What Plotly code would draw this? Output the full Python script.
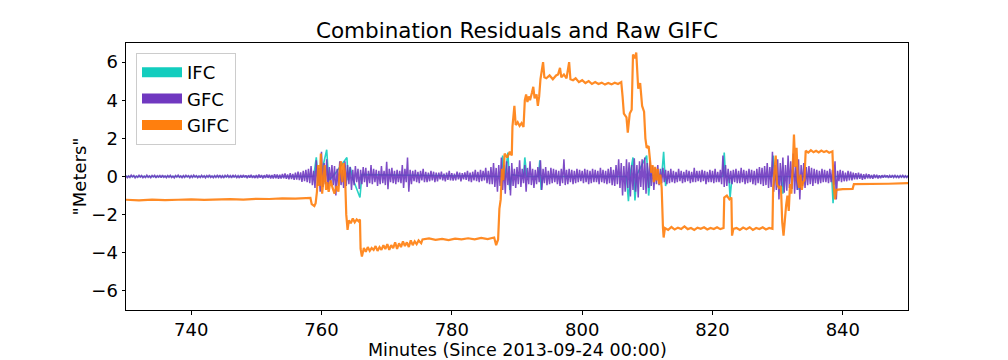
import numpy as np
import plotly.graph_objects as go

# ---------------- data ----------------
T_START, T_END = 730.0, 850.0          # GFC sampled every 0.2 min

GFC = [
    0.04, -0.06, 0.03, -0.05, 0.07, -0.02, 0.05, -0.07, 0.02, -0.04,   # 730
    0.06, -0.03, 0.05, -0.06, 0.02, -0.05, 0.07, -0.04, 0.03, -0.06,   # 732
    0.05, -0.02, 0.06, -0.07, 0.04, -0.03, 0.05, -0.06, 0.07, -0.04,   # 734
    0.03, -0.06, 0.05, -0.04, 0.06, -0.05, 0.02, -0.07, 0.05, -0.03,   # 736
    0.07, -0.04, 0.03, -0.06, 0.05, -0.05, 0.06, -0.02, 0.04, -0.07,   # 738
    0.05, -0.05, 0.07, -0.03, 0.04, -0.06, 0.03, -0.05, 0.06, -0.04,   # 740
    0.04, -0.07, 0.05, -0.04, 0.08, -0.05, 0.03, -0.06, 0.05, -0.05,   # 742
    0.06, -0.04, 0.07, -0.06, 0.04, -0.08, 0.06, -0.03, 0.07, -0.05,   # 744
    0.05, -0.07, 0.08, -0.05, 0.06, -0.06, 0.04, -0.08, 0.07, -0.06,   # 746
    0.08, -0.05, 0.06, -0.09, 0.07, -0.06, 0.09, -0.07, 0.05, -0.08,   # 748
    0.07, -0.09, 0.10, -0.06, 0.08, -0.10, 0.07, -0.08, 0.11, -0.07,   # 750
    0.09, -0.11, 0.08, -0.10, 0.12, -0.09, 0.10, -0.12, 0.09, -0.11,   # 752
    0.13, -0.10, 0.16, -0.12, 0.11, -0.15, 0.18, -0.13, 0.14, -0.17,   # 754
    0.20, -0.16, 0.25, -0.19, 0.22, -0.28, 0.30, -0.24, 0.35, -0.30,   # 756
    0.40, -0.35, 0.55, -0.45, 0.30, -0.60, 0.85, -0.50, 0.45, -0.80,   # 758
    1.30, -0.55, 0.70, -0.40, 0.90, -0.65, 0.50, -0.35, 0.60, -0.45,   # 760
    0.55, -1.00, 0.40, -0.50, 0.80, -0.45, 0.35, -0.60, 0.80, -0.50,   # 762
    0.60, -0.40, 0.50, -0.70, 0.35, -0.45, 0.55, -0.30, 0.40, -0.65,   # 764
    0.35, -0.40, 0.50, -0.30, 0.45, -0.55, 0.30, -0.35, 0.60, -0.40,   # 766
    0.40, -0.30, 0.35, -0.50, 0.30, -0.40, 0.55, -0.35, 0.30, -0.45,   # 768
    0.77, -0.67, 0.40, -0.30, 0.45, -0.35, 0.30, -0.40, 0.35, -0.30,   # 770
    0.30, -0.35, 0.60, -0.60, 0.40, -0.30, 1.00, -0.80, 0.35, -0.40,   # 772
    0.30, -0.25, 0.35, -0.30, 0.25, -0.35, 0.30, -0.20, 0.40, -0.30,   # 774
    0.25, -0.30, 0.20, -0.25, 0.30, -0.20, 0.25, -0.30, 0.20, -0.25,   # 776
    0.20, -0.15, 0.25, -0.20, 0.15, -0.25, 0.20, -0.18, 0.30, -0.20,   # 778
    0.18, -0.22, 0.15, -0.20, 0.25, -0.15, 0.20, -0.25, 0.18, -0.15,   # 780
    0.22, -0.18, 0.30, -0.25, 0.20, -0.30, 0.25, -0.20, 0.35, -0.25,   # 782
    0.25, -0.30, 0.35, -0.25, 0.30, -0.20, 0.45, -0.35, 0.30, -0.40,   # 784
    0.50, -0.40, 0.70, -0.55, 0.45, -0.80, 0.60, -0.50, 1.00, -0.70,   # 786
    0.60, -0.90, 0.80, -0.45, 0.55, -1.00, 0.70, -0.50, 0.40, -0.60,   # 788
    0.50, -0.40, 0.85, -0.55, 0.40, -0.35, 0.60, -0.80, 0.45, -0.40,   # 790
    0.80, -0.45, 0.40, -0.60, 0.35, -0.40, 0.50, -0.30, 0.85, -0.70,   # 792
    0.40, -0.35, 0.50, -0.45, 0.30, -0.40, 0.45, -0.35, 0.40, -0.30,   # 794
    0.35, -0.40, 0.30, -0.50, 0.40, -0.35, 0.90, -0.45, 0.35, -0.40,   # 796
    0.40, -0.30, 0.35, -0.40, 0.30, -0.35, 0.40, -0.30, 0.35, -0.25,   # 798
    0.30, -0.35, 0.40, -0.30, 0.35, -0.40, 0.30, -0.35, 0.40, -0.30,   # 800
    0.35, -0.30, 0.30, -0.40, 0.45, -0.30, 0.35, -0.35, 0.30, -0.40,   # 802
    0.40, -0.35, 0.50, -0.45, 0.35, -0.50, 0.60, -0.40, 0.90, -0.60,   # 804
    0.70, -1.00, 0.55, -0.80, 0.90, -0.60, 0.75, -1.05, 0.60, -0.70,   # 806
    0.95, -0.80, 0.60, -1.10, 0.80, -0.55, 0.90, -0.70, 1.00, -0.90,   # 808
    0.70, -0.60, 0.85, -0.50, 0.55, -0.70, 0.45, -0.40, 0.60, -0.45,   # 810
    0.40, -0.35, 0.45, -0.30, 0.35, -0.40, 0.30, -0.35, 0.40, -0.30,   # 812
    0.30, -0.35, 0.25, -0.30, 0.40, -0.25, 0.30, -0.35, 0.25, -0.30,   # 814
    0.35, -0.25, 0.30, -0.35, 0.25, -0.30, 0.45, -0.30, 0.30, -0.25,   # 816
    0.30, -0.30, 0.35, -0.25, 0.30, -0.40, 0.25, -0.30, 0.35, -0.30,   # 818
    0.30, -0.35, 0.40, -0.30, 0.25, -0.30, 0.35, -0.40, 1.10, -0.55,   # 820
    0.60, -0.50, 0.40, -0.35, 0.30, -0.40, 0.35, -0.30, 0.40, -0.35,   # 822
    0.30, -0.35, 0.45, -0.30, 0.35, -0.40, 0.30, -0.35, 0.40, -0.30,   # 824
    0.35, -0.40, 0.30, -0.45, 0.40, -0.35, 0.50, -0.40, 0.45, -0.50,   # 826
    0.55, -0.45, 0.70, -0.60, 0.50, -0.55, 1.30, -0.80, 0.60, -0.70,   # 828
    0.90, -1.20, 0.70, -0.55, 1.00, -0.85, 0.60, -0.75, 1.10, -0.60,   # 830
    0.80, -0.65, 1.20, -0.90, 0.55, -0.70, 0.90, -1.20, 0.60, -0.50,   # 832
    0.70, -0.60, 0.50, -0.45, 0.55, -0.40, 0.45, -0.50, 0.40, -0.35,   # 834
    0.35, -0.40, 0.30, -0.35, 0.40, -0.30, 0.35, -0.30, 0.30, -0.35,   # 836
    0.40, -0.30, 0.35, -0.45, 0.80, -1.20, 0.30, -0.25, 0.35, -0.30,   # 838
    0.30, -0.25, 0.20, -0.25, 0.30, -0.20, 0.25, -0.20, 0.20, -0.15,   # 840
    0.18, -0.15, 0.20, -0.12, 0.15, -0.18, 0.12, -0.14, 0.15, -0.10,   # 842
    0.12, -0.10, 0.08, -0.12, 0.10, -0.08, 0.09, -0.10, 0.07, -0.09,   # 844
    0.07, -0.06, 0.08, -0.05, 0.06, -0.07, 0.05, -0.06, 0.07, -0.05,   # 846
    0.06, -0.05, 0.04, -0.06, 0.05, -0.04, 0.06, -0.05, 0.04, -0.05,   # 848
    0.05,                                                              # 850
]

# IFC: only its excursions beyond GFC are visible -> sampled at those points
IFC_POINTS = [
    (730, 0), (758.8, 0), (759.2, 1.0), (759.5, -0.3), (760.0, 0.2),
    (760.8, 1.4), (761.1, -0.2), (762.0, 0.1), (763.9, 1.0), (764.1, -0.2),
    (764.4, 0.5), (764.8, -0.1), (765.9, -1.1), (766.2, 0.1), (787.6, 0),
    (787.8, 1.1), (788.1, -0.2), (788.6, 1.25), (788.9, -0.7), (789.2, 0.1),
    (791.0, 0), (791.2, 1.0), (791.5, 0), (793.3, 0), (793.5, 0.85),
    (793.7, -0.7), (794.0, 0), (806.8, 0), (807.1, -1.3), (807.4, 0.2),
    (807.8, 1.0), (808.1, -1.25), (808.4, 0.1), (809.9, 1.1), (810.2, -1.0),
    (810.5, 0.1), (812.2, 0), (812.5, 1.3), (812.8, -0.5), (813.1, 0),
    (821.6, 0), (821.8, 1.25), (822.0, 0), (822.5, 0), (822.7, -1.1),
    (823.0, 0), (829.1, 0), (829.3, 1.1), (829.6, 0), (830.6, 0),
    (830.8, -0.9), (831.0, 0), (832.9, 0), (833.1, -0.7), (833.3, 0),
    (838.3, 0), (838.5, -1.4), (838.7, 0), (850, 0),
]

GIFC_POINTS = [
    (730.0, -1.22), (732, -1.25), (734, -1.21), (736, -1.24), (738, -1.22),
    (740, -1.20), (742, -1.23), (744, -1.20), (746, -1.19), (748, -1.21),
    (750, -1.17), (752, -1.18), (754, -1.15), (756, -1.16), (758.3, -1.12),
    (758.5, -1.45), (758.9, -1.55), (759.1, -1.40), (759.3, -0.80), (759.5, 0.60),
    (759.7, -0.50), (759.9, 1.20), (760.1, -0.90), (760.3, -0.20), (760.5, 0.60),
    (760.7, -0.70), (760.9, -0.30), (761.1, -0.80), (761.4, -0.20), (761.7, -0.60),
    (762.0, -0.90), (762.3, -0.50), (762.6, -0.80), (762.8, 0.40), (763.0, 0.80),
    (763.2, -0.30), (763.4, 0.70), (763.6, 0.20), (763.8, -2.00), (764.0, -2.80),
    (764.2, -2.30), (764.5, -2.45), (764.8, -2.20), (765.1, -2.40), (765.4, -2.25),
    (765.7, -2.35), (765.9, -2.25), (766.0, -3.80), (766.2, -4.20), (766.5, -3.75),
    (766.8, -3.95), (767.1, -3.70), (767.4, -3.90), (767.7, -3.75), (768.0, -3.85),
    (768.3, -3.65), (768.6, -3.90), (768.9, -3.70), (769.2, -3.85), (769.5, -3.60),
    (769.8, -3.80), (770.1, -3.55), (770.4, -3.85), (770.7, -3.60), (771.0, -3.75),
    (771.3, -3.45), (771.6, -3.80), (771.9, -3.50), (772.2, -3.70), (772.5, -3.40),
    (772.8, -3.65), (773.1, -3.45), (773.4, -3.70), (773.7, -3.35), (774.0, -3.60),
    (774.3, -3.40), (774.6, -3.55), (774.9, -3.35), (775.3, -3.50), (775.5, -3.30),
    (776.5, -3.25), (777.5, -3.32), (778.5, -3.27), (779.5, -3.33), (780.5, -3.26),
    (781.5, -3.30), (782.5, -3.24), (783.5, -3.30), (784.5, -3.22), (785.5, -3.28),
    (786.5, -3.20), (786.8, -3.60), (787.1, -3.30), (787.3, -1.70), (787.5, -1.20),
    (787.7, 0.40), (787.9, -0.20), (788.1, 1.20), (788.5, 1.00), (788.9, 1.30),
    (789.2, 1.10), (789.3, 2.60), (789.6, 3.70), (789.8, 2.70), (790.1, 2.85),
    (790.4, 2.65), (790.7, 2.80), (791.0, 2.60), (791.2, 4.00), (791.4, 4.30),
    (791.6, 3.90), (791.8, 4.20), (792.0, 4.00), (792.3, 4.40), (792.5, 4.70),
    (792.7, 4.10), (793.0, 4.30), (793.2, 3.70), (793.4, 4.20), (793.6, 5.10),
    (794.0, 6.00), (794.2, 5.20), (794.5, 5.15), (795.0, 5.30), (795.5, 5.10),
    (796.0, 5.30), (796.3, 5.35), (796.6, 5.70), (796.8, 5.20), (797.2, 5.35),
    (797.6, 5.15), (798.0, 6.00), (798.2, 5.10), (798.6, 5.05), (799.0, 5.15),
    (799.5, 4.95), (800.0, 5.05), (800.5, 4.90), (801.0, 5.00), (801.5, 4.85),
    (802.0, 4.95), (802.5, 4.85), (803.0, 4.92), (803.5, 4.82), (804.0, 4.90),
    (804.5, 4.83), (805.0, 4.92), (805.5, 4.85), (806.0, 4.95), (806.2, 4.20),
    (806.4, 3.30), (806.8, 3.10), (807.0, 2.30), (807.3, 3.30), (807.6, 3.50),
    (807.8, 6.40), (808.1, 6.20), (808.3, 6.50), (808.6, 4.60), (808.9, 4.90),
    (809.2, 3.70), (809.5, 3.40), (809.7, 2.00), (809.9, 1.50), (810.2, 1.60),
    (810.4, 0.90), (810.6, 0.20), (810.8, 0.60), (811.0, -0.30), (811.2, 0.50),
    (811.4, -0.20), (811.6, 0.40), (811.8, -0.40), (812.0, 0.10), (812.2, -0.60),
    (812.4, -2.70), (812.5, -3.20), (812.7, -2.70), (813.2, -2.80), (813.7, -2.65),
    (814.2, -2.78), (814.7, -2.68), (815.2, -2.75), (815.7, -2.62), (816.2, -2.76),
    (816.7, -2.70), (817.2, -2.80), (817.7, -2.68), (818.2, -2.74), (818.7, -2.66),
    (819.2, -2.78), (819.7, -2.70), (820.2, -2.75), (820.7, -2.66), (821.2, -2.76),
    (821.7, -2.70), (821.8, -1.10), (822.2, -1.00), (822.6, -1.20), (822.9, -1.10),
    (823.0, -3.10), (823.2, -2.75), (823.7, -2.70), (824.2, -2.80), (824.7, -2.68),
    (825.2, -2.76), (825.7, -2.66), (826.2, -2.80), (826.7, -2.70), (827.2, -2.75),
    (827.7, -2.66), (828.2, -2.78), (828.7, -2.70), (829.2, -2.74), (829.3, -0.60),
    (829.5, 0.20), (829.7, 1.10), (829.9, -0.40), (830.2, -0.60), (830.5, -0.50),
    (830.7, -2.40), (830.9, -3.10), (831.1, -2.20), (831.3, -1.50), (831.5, -1.00),
    (831.7, -1.80), (831.9, -0.40), (832.1, -0.90), (832.3, 0.40), (832.5, 2.20),
    (832.7, 0.50), (832.9, 1.50), (833.1, -0.20), (833.3, -0.60), (833.5, 0.10),
    (833.7, -0.70), (833.9, -0.30), (834.1, -0.20), (834.3, 1.35), (834.7, 1.25),
    (835.1, 1.38), (835.5, 1.27), (835.9, 1.35), (836.3, 1.26), (836.7, 1.36),
    (837.1, 1.28), (837.5, 1.34), (837.9, 1.25), (838.4, 1.32), (838.6, -0.50),
    (838.8, -1.20), (839.0, -0.70), (840.0, -0.66), (841.5, -0.65), (841.7, -0.40),
    (843.0, -0.40), (845.0, -0.37), (847.0, -0.38), (850.0, -0.35),
]

X_TICKS = [740, 760, 780, 800, 820, 840]
Y_TICKS = [-6, -4, -2, 0, 2, 4, 6]
Y_TICK_LABELS = ["\u22126", "\u22124", "\u22122", "0", "2", "4", "6"]

TITLE = "Combination Residuals and Raw GIFC"
X_LABEL = "Minutes (Since 2013-09-24 00:00)"
Y_LABEL = '"Meters"'

COL_IFC = "#12CDBE"
COL_GFC = "#7038C0"
COL_GIFC = "#FF7F0E"

# ---------------- figure ----------------
t_gfc = np.linspace(T_START, T_END, len(GFC))
ifc_t, ifc_v = zip(*IFC_POINTS)
gifc_t, gifc_v = zip(*GIFC_POINTS)
FONT = "DejaVu Sans"
MARGIN_T, MARGIN_B = 43, 50
PLOT_W, PLOT_H = 782, 360 - MARGIN_T - MARGIN_B

fig = go.Figure()
fig.add_trace(go.Scatter(x=ifc_t, y=ifc_v, mode="lines", showlegend=False,
                         line=dict(color=COL_IFC, width=1.6), opacity=0.9,
                         hoverinfo="skip"))
fig.add_trace(go.Scatter(x=t_gfc, y=GFC, mode="lines", showlegend=False,
                         line=dict(color=COL_GFC, width=1.5), opacity=0.9,
                         hoverinfo="skip"))
fig.add_trace(go.Scatter(x=gifc_t, y=gifc_v, mode="lines", showlegend=False,
                         line=dict(color=COL_GIFC, width=2.2), opacity=0.9,
                         hoverinfo="skip"))

# legend patches
for name, col in [("IFC", COL_IFC), ("GFC", COL_GFC), ("GIFC", COL_GIFC)]:
    fig.add_trace(go.Scatter(x=[None], y=[None], mode="lines", name=name,
                             line=dict(color=col, width=12)))

axis_common = dict(showline=True, mirror=True, linecolor="black", linewidth=1,
                   ticks="outside", ticklen=3.5, tickwidth=1, tickcolor="black",
                   showgrid=False, zeroline=False, automargin=False,
                   tickfont=dict(family=FONT, size=18, color="black"))

fig.update_layout(
    width=1008, height=360,
    margin=dict(l=126, r=100, t=MARGIN_T, b=MARGIN_B),
    paper_bgcolor="white", plot_bgcolor="white",
    title=dict(text=TITLE, x=517 / 1008, xanchor="center", y=1 - 30 / 360,
               yanchor="middle", font=dict(family=FONT, size=21.5, color="black")),
    xaxis=dict(range=[730, 850], tickvals=X_TICKS, **axis_common),
    yaxis=dict(range=[-7, 7], tickvals=Y_TICKS, ticktext=Y_TICK_LABELS,
               **axis_common),
    legend=dict(x=10 / PLOT_W, y=1 - 10 / PLOT_H, xanchor="left", yanchor="top",
                bgcolor="rgba(255,255,255,0.8)", bordercolor="#cccccc",
                borderwidth=1, font=dict(family=FONT, size=18, color="black"),
                itemwidth=40, tracegroupgap=4),
    showlegend=True,
    annotations=[
        dict(text=X_LABEL, xref="paper", yref="paper", x=0.5,
             y=-(350 - (360 - MARGIN_B)) / PLOT_H,
             xanchor="center", yanchor="middle", showarrow=False,
             font=dict(family=FONT, size=17.5, color="black")),
        dict(text=Y_LABEL, xref="paper", yref="paper", x=-47 / PLOT_W, y=0.5,
             xanchor="center", yanchor="middle", showarrow=False, textangle=-90,
             font=dict(family=FONT, size=18, color="black")),
    ],
)

fig.write_html("out.html", config={"displayModeBar": False},
               post_script="document.body.style.margin='0';")
